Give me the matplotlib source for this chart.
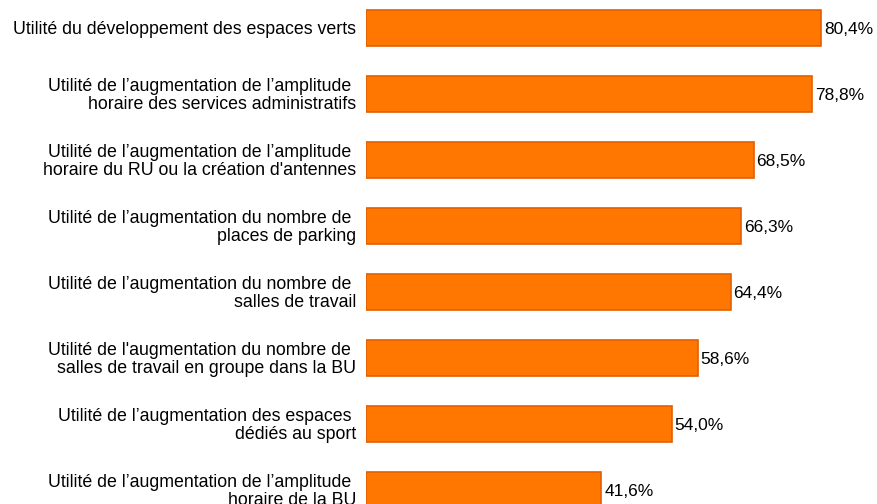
import numpy as np
import matplotlib.pyplot as plt

plt.rcParams['font.family'] = ['Liberation Sans', 'DejaVu Sans']

# data
labels = [
    "Utilité du développement des espaces verts",
    "Utilité de l’augmentation de l’amplitude \nhoraire des services administratifs",
    "Utilité de l’augmentation de l’amplitude \nhoraire du RU ou la création d'antennes",
    "Utilité de l’augmentation du nombre de \nplaces de parking",
    "Utilité de l’augmentation du nombre de \nsalles de travail",
    "Utilité de l'augmentation du nombre de \nsalles de travail en groupe dans la BU",
    "Utilité de l’augmentation des espaces \ndédiés au sport",
    "Utilité de l’augmentation de l’amplitude \nhoraire de la BU",
]
values = [80.4, 78.8, 68.5, 66.3, 64.4, 58.6, 54.0, 41.6]

fig = plt.figure(figsize=(8.77, 5.04), dpi=100)
ax = fig.add_axes([366/877, 0, 1-366/877, 1])

y = np.arange(len(values))
ax.barh(y, values, height=0.545, color='#FF7700', edgecolor='#E06000', linewidth=1.2)

for yi, v, lab in zip(y, values, labels):
    ax.text(v + 0.5, yi + 0.03, f"{v:.1f}%".replace('.', ','), va='center', ha='left', fontsize=12.5)
    ax.text(-1.75, yi + 0.02, lab, va='center', ha='right', multialignment='right',
            fontsize=12.8, linespacing=1.1, clip_on=False)

ax.set_xlim(0, (877-366)/5.66)
ax.set_ylim((504-28)/66, -28/66)
ax.axis('off')

fig.savefig('out.png', dpi=100)
